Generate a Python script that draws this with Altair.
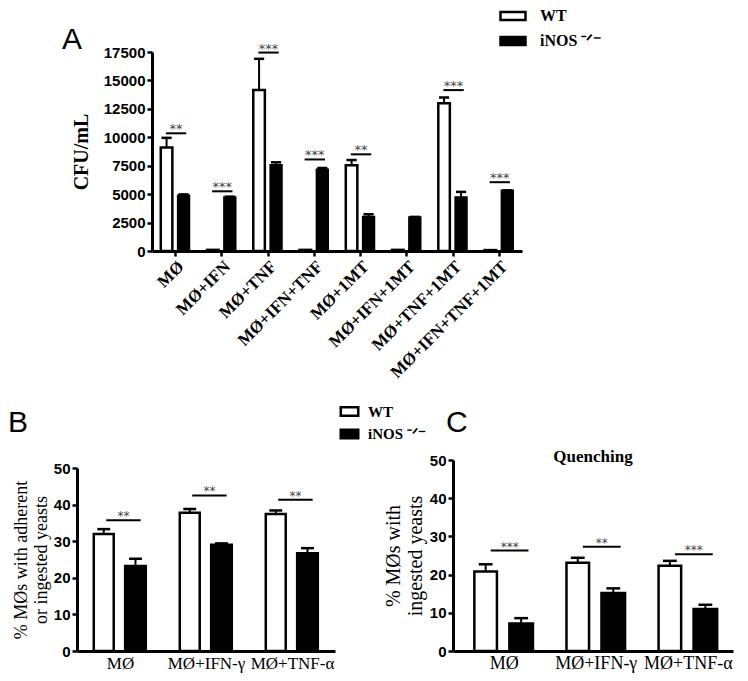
import altair as alt
import pandas as pd

# ---------------- data ----------------
groups = ["WT", "iNOS ⁻ᐟ⁻"]

a_cats = ["MØ", "MØ+IFN", "MØ+TNF", "MØ+IFN+TNF", "MØ+1MT", "MØ+IFN+1MT",
          "MØ+TNF+1MT", "MØ+IFN+TNF+1MT"]
a_wt = [9100, 100, 14150, 100, 7550, 100, 13000, 80]
a_wt_err = [9950, 100, 16900, 100, 8000, 100, 13500, 80]
a_ko = [4850, 4700, 7550, 7150, 3000, 2950, 4700, 5300]
a_ko_err = [4980, 4780, 7800, 7300, 3230, 3000, 5200, 5330]
a_sig = [10350, 5250, 17450, 8050, 8500, None, 14150, 6050]
a_stars = ["**", "***", "***", "***", "**", "", "***", "***"]
a_ticks = [0, 2500, 5000, 7500, 10000, 12500, 15000, 17500]

b_cats = ["MØ", "MØ+IFN-γ", "MØ+TNF-α"]
b_wt = [32.0, 37.8, 37.4]
b_wt_err = [33.3, 38.8, 38.4]
b_ko = [23.2, 29.0, 26.7]
b_ko_err = [25.2, 29.4, 28.1]
b_sig = [35.7, 42.5, 41.3]
b_stars = ["**", "**", "**"]

c_cats = ["MØ", "MØ+IFN-γ", "MØ+TNF-α"]
c_wt = [20.8, 23.1, 22.3]
c_wt_err = [22.7, 24.4, 23.6]
c_ko = [7.2, 15.2, 11.0]
c_ko_err = [8.6, 16.4, 12.1]
c_sig = [26.3, 27.3, 25.3]
c_stars = ["***", "**", "***"]
pct_ticks = [0, 10, 20, 30, 40, 50]

SERIF = "Liberation Serif"
SANS = "Liberation Sans"


def tables(wt, wt_err, ko, ko_err, sig, stars, off_wt, off_ko, sig_off, cap):
    bars, errs, caps, lines = [], [], [], []
    for i in range(len(wt)):
        for g, v, e, off in ((groups[0], wt[i], wt_err[i], off_wt),
                             (groups[1], ko[i], ko_err[i], off_ko)):
            lo, hi = i + off[0], i + off[1]
            xc = (lo + hi) / 2
            bars.append(dict(group=g, lo=lo, hi=hi, val=v))
            if e > v:
                errs.append(dict(x=xc, y=v, y2=e))
                caps.append(dict(x=xc - cap, x2=xc + cap, y=e))
        if sig[i] is not None:
            lines.append(dict(x=i + sig_off[0], x2=i + sig_off[1],
                              xm=i + (sig_off[0] + sig_off[1]) / 2,
                              y=sig[i], s=stars[i]))
    return (pd.DataFrame(bars), pd.DataFrame(errs), pd.DataFrame(caps),
            pd.DataFrame(lines))


def panel(tabs, xdom, ydom, yscale_range, width, height,
          xaxis, yaxis, legend, stroke_w, star_size):
    bars, errs, caps, lines = tabs
    xs = alt.Scale(domain=xdom, nice=False, zero=False)
    if yscale_range is not None:
        ys = alt.Scale(domain=ydom, nice=False, range=yscale_range)
    else:
        ys = alt.Scale(domain=ydom, nice=False)
    fill = alt.Fill("group:N",
                    scale=alt.Scale(domain=groups, range=["white", "black"]),
                    legend=legend)
    b = alt.Chart(bars).mark_bar(stroke="black", strokeWidth=stroke_w).encode(
        x=alt.X("lo:Q", scale=xs, axis=xaxis),
        x2="hi:Q",
        y=alt.Y("val:Q", scale=ys, axis=yaxis),
        y2=alt.datum(0),
        fill=fill,
    )
    e = alt.Chart(errs).mark_rule(color="black", strokeWidth=2).encode(
        x=alt.X("x:Q", scale=xs, axis=xaxis),
        y=alt.Y("y:Q", scale=ys, axis=yaxis), y2="y2:Q")
    c = alt.Chart(caps).mark_rule(color="black", strokeWidth=2.5).encode(
        x=alt.X("x:Q", scale=xs, axis=xaxis), x2="x2:Q",
        y=alt.Y("y:Q", scale=ys, axis=yaxis))
    l = alt.Chart(lines).mark_rule(color="black", strokeWidth=2).encode(
        x=alt.X("x:Q", scale=xs, axis=xaxis), x2="x2:Q",
        y=alt.Y("y:Q", scale=ys, axis=yaxis))
    t = alt.Chart(lines).mark_text(font="DejaVu Sans", fontSize=star_size,
                                   color="#444444", baseline="alphabetic",
                                   dy=0).encode(
        x=alt.X("xm:Q", scale=xs, axis=xaxis),
        y=alt.Y("y:Q", scale=ys, axis=yaxis), text="s:N")
    return alt.layer(b, e, c, l, t).properties(width=width, height=height)


def cat_expr(cats):
    return "[" + ",".join("'" + c + "'" for c in cats) + "][datum.value]"


# ---------------- panel A ----------------
a_tabs = tables(a_wt, a_wt_err, a_ko, a_ko_err, a_sig, a_stars,
                (-0.31, -0.06), (0.065, 0.30), (-0.2, 0.24), 0.11)
a_x = alt.Axis(values=list(range(len(a_cats))), labelExpr=cat_expr(a_cats),
               title=None, grid=False, labelAngle=-45, labelAlign="right",
               labelBaseline="top", labelFont=SERIF, labelFontWeight="bold",
               labelFontSize=17, labelPadding=2, tickSize=5, tickWidth=2.5,
               domainWidth=3, labelOverlap=False, labelBound=False)
a_y = alt.Axis(values=a_ticks, format="d", title="CFU/mL", titleFont=SERIF,
               titleFontWeight="bold", titleFontSize=20, titlePadding=12,
               labelFont=SANS, labelFontWeight="bold", labelFontSize=15,
               labelPadding=2, tickSize=5, tickWidth=2.5, domainWidth=3,
               grid=False, labelOverlap=False)
a_leg = alt.Legend(orient="none", legendX=353, legendY=-44, title=None,
                   symbolType="M-2,-0.65H2V0.65H-2Z", symbolSize=156.25,
                   symbolStrokeColor="black", symbolStrokeWidth=2.5,
                   labelFont=SERIF, labelFontWeight="bold", labelFontSize=16,
                   labelOffset=19, rowPadding=5, padding=0)
chart_a = panel(a_tabs, [-0.5, 7.5], [0, 17500], None,
                370, 199, a_x, a_y, a_leg, 2.5, 13).properties(
    title=alt.TitleParams("A", anchor="start", frame="group", dx=-90,
                          dy=71, offset=0, fontSize=30, font=SANS,
                          fontWeight="normal", baseline="alphabetic"))

# ---------------- panel B ----------------
b_tabs = tables(b_wt, b_wt_err, b_ko, b_ko_err, b_sig, b_stars,
                (-0.305, -0.073), (0.06, 0.30), (-0.16, 0.24), 0.075)
b_x = alt.Axis(values=[0, 1, 2], labelExpr=cat_expr(b_cats), title=None,
               grid=False, ticks=False, labelAngle=0, labelFont=SERIF,
               labelFontSize=17, labelPadding=17, labelBaseline="alphabetic",
               domainWidth=3, labelOverlap=False, labelBound=False)
b_y = alt.Axis(values=pct_ticks, format="d",
               title=["% MØs with adherent", "or ingested yeasts"],
               titleFont=SERIF, titleFontWeight="normal", titleFontSize=18,
               titlePadding=3, labelFont=SANS, labelFontWeight="bold",
               labelFontSize=15, labelPadding=2, tickSize=5, tickWidth=2.5,
               domainWidth=3, grid=False, labelOverlap=False)
b_leg = alt.Legend(orient="none", legendX=265, legendY=-56, title=None,
                   symbolType="M-2,-0.97H2V0.97H-2Z", symbolSize=76.6,
                   symbolStrokeColor="black", symbolStrokeWidth=2.5,
                   labelFont=SERIF, labelFontWeight="bold", labelFontSize=15,
                   labelOffset=11, rowPadding=3.5, padding=0)
chart_b = panel(b_tabs, [-0.5, 2.5], [0, 50], [191, 8],
                258, 191, b_x, b_y, b_leg, 2.5, 12).properties(
    title=alt.TitleParams("B", anchor="start", frame="group", dx=-69,
                          dy=58, offset=0, fontSize=30, font=SANS,
                          fontWeight="normal", baseline="alphabetic"))

# ---------------- panel C ----------------
c_tabs = tables(c_wt, c_wt_err, c_ko, c_ko_err, c_sig, c_stars,
                (-0.318, -0.073), (0.062, 0.318), (-0.14, 0.27), 0.075)
c_x = alt.Axis(values=[0, 1, 2], labelExpr=cat_expr(c_cats), title=None,
               grid=False, ticks=False, labelAngle=0, labelFont=SERIF,
               labelFontSize=18, labelPadding=17, labelBaseline="alphabetic",
               domainWidth=3, labelOverlap=False, labelBound=False)
c_y = alt.Axis(values=pct_ticks, format="d",
               title=["% MØs with", "ingested yeasts"],
               titleFont=SERIF, titleFontWeight="normal", titleFontSize=20,
               titlePadding=4, labelFont=SANS, labelFontWeight="bold",
               labelFontSize=15, labelPadding=2, tickSize=5, tickWidth=2.5,
               domainWidth=3, grid=False, labelOverlap=False)
chart_c_inner = panel(c_tabs, [-0.55, 2.49], [0, 50], None,
                      280, 191, c_x, c_y, None, 2.5, 12).properties(
    title=alt.TitleParams("Quenching", anchor="middle", frame="group",
                          offset=0, dy=26, fontSize=17, font=SERIF,
                          fontWeight="bold", baseline="alphabetic"))
chart_c = alt.hconcat(chart_c_inner, bounds="flush").properties(
    title=alt.TitleParams("C", anchor="start", frame="group", dx=-7,
                          dy=14, offset=0, fontSize=30, font=SANS,
                          fontWeight="normal", baseline="alphabetic"))

spacer = alt.Chart(pd.DataFrame({"v": [0]})).mark_point(opacity=0).encode(
    x=alt.value(0), y=alt.value(0)).properties(width=75, height=10)

top = alt.hconcat(spacer, chart_a, spacing=0, bounds="flush").resolve_legend(
    fill="independent").resolve_scale(fill="independent")
bottom = alt.hconcat(chart_b, chart_c, spacing=118, bounds="flush"
                     ).resolve_legend(fill="independent").resolve_scale(
    fill="independent")

chart = alt.vconcat(top, bottom, spacing=408, bounds="flush").resolve_legend(
    fill="independent").resolve_scale(fill="independent").properties(
    padding={"left": 69, "top": 44, "right": 661, "bottom": 621},
    autosize=alt.AutoSizeParams(type="none"),
).configure_view(stroke=None).configure_axis(
    domainColor="black", tickColor="black", labelColor="black",
    titleColor="black")

chart.save("out.html", embed_options={"renderer": "svg", "actions": False})
